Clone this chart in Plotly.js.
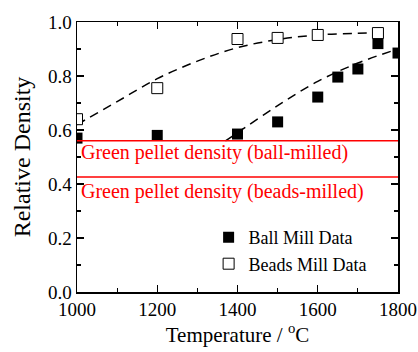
<!DOCTYPE html>
<html>
<head>
<meta charset="utf-8">
<script src="https://cdn.plot.ly/plotly-3.0.1.min.js"></script>
<style>html,body{margin:0;padding:0;background:#fff;}#chart{width:418px;height:352px;}</style>
</head>
<body>
<div id="chart"></div>
<script>
// Measured data
const ballTemp = [1000, 1200, 1400, 1500, 1600, 1650, 1700, 1750, 1800];
const ballDensity = [0.57, 0.58, 0.585, 0.63, 0.722, 0.796, 0.826, 0.92, 0.885];
const beadsTemp = [1000, 1200, 1400, 1500, 1600, 1750];
const beadsDensity = [0.64, 0.755, 0.937, 0.941, 0.952, 0.959];
// Fit curves
const ballFitTemp = [1370, 1400, 1500, 1600, 1700, 1800];
const ballFitDensity = [0.56, 0.59, 0.69, 0.78, 0.848, 0.90];
const beadsFitTemp = [1000, 1100, 1200, 1300, 1400, 1500, 1600, 1700, 1750];
const beadsFitDensity = [0.62, 0.705, 0.79, 0.855, 0.905, 0.935, 0.952, 0.958, 0.96];
// Green pellet densities
const greenLabels = ['Green pellet density (ball-milled)', 'Green pellet density (beads-milled)'];
const greenDensity = [0.56, 0.426];
const legendNames = ['Ball Mill Data', 'Beads Mill Data'];

const FONT = 'Liberation Serif';
const dashStyle = {color: '#000', width: 1.5, dash: '9px,6px'};

const traces = [
  {x: beadsFitTemp, y: beadsFitDensity, mode: 'lines', line: Object.assign({shape: 'spline'}, dashStyle), showlegend: false, hoverinfo: 'skip'},
  {x: ballFitTemp, y: ballFitDensity, mode: 'lines', line: Object.assign({shape: 'spline'}, dashStyle), showlegend: false, hoverinfo: 'skip'},
  {x: ballTemp, y: ballDensity, mode: 'markers', name: legendNames[0],
   marker: {symbol: 'square', size: 11, color: '#000', line: {width: 0}}},
  {x: beadsTemp, y: beadsDensity, mode: 'markers', name: legendNames[1],
   marker: {symbol: 'square', size: 11, color: '#fff', line: {width: 1, color: '#000'}}}
];

const shapes = greenDensity.map(v => ({
  type: 'line', xref: 'paper', x0: 0, x1: 1, yref: 'y', y0: v, y1: v,
  line: {color: '#ff0000', width: 1.5}
}));

const labelOffsets = [0.006, -0.004];
const annotations = greenLabels.map((t, i) => ({
  text: t, xref: 'paper', x: 0.005, xanchor: 'left', yref: 'y', y: greenDensity[i] + labelOffsets[i],
  yanchor: 'top', showarrow: false, font: {family: FONT, size: 20, color: '#ff0000'}
}));

const axisCommon = {
  showline: true, linewidth: 1.5, linecolor: '#000', mirror: 'ticks',
  ticks: 'inside', ticklen: 7, tickwidth: 1.2, tickcolor: '#000',
  showgrid: false, zeroline: false,
  tickfont: {family: FONT, size: 19, color: '#000'}
};

const layout = {
  width: 418, height: 352,
  margin: {l: 77, r: 20, t: 22, b: 60},
  paper_bgcolor: '#fff', plot_bgcolor: '#fff',
  font: {family: FONT, color: '#000'},
  showlegend: true,
  legend: {x: 0.41, y: 0.27, xanchor: 'left', yanchor: 'top', bgcolor: 'rgba(0,0,0,0)',
           font: {family: FONT, size: 18, color: '#000'}, tracegroupgap: 0},
  xaxis: Object.assign({}, axisCommon, {
    range: [1000, 1800], dtick: 200, tick0: 1000,
    minor: {dtick: 100, ticklen: 4, tickwidth: 1.2, tickcolor: '#000', ticks: 'inside'},
    title: {text: 'Temperature / <sup>o</sup>C', font: {family: FONT, size: 21, color: '#000'}, standoff: 8}
  }),
  yaxis: Object.assign({}, axisCommon, {
    range: [0, 1], dtick: 0.2, tick0: 0, tickformat: '.1f',
    minor: {dtick: 0.1, ticklen: 4, tickwidth: 1.2, tickcolor: '#000', ticks: 'inside'},
    title: {text: 'Relative Density', font: {family: FONT, size: 24, color: '#000'}, standoff: 10}
  }),
  shapes: shapes,
  annotations: annotations
};

Plotly.newPlot('chart', traces, layout, {displayModeBar: false, staticPlot: true});
</script>
</body>
</html>
